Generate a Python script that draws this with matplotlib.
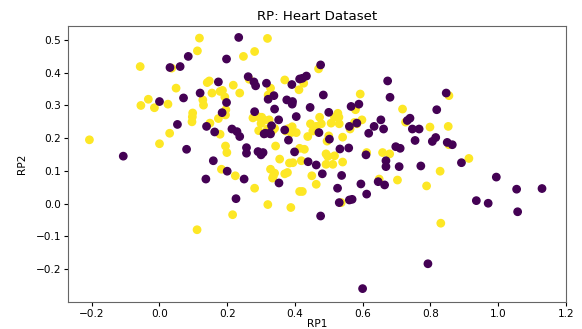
import numpy as np
import matplotlib
matplotlib.use("Agg")
import matplotlib.pyplot as plt

# points, class 1 (yellow) and class 0 (purple)
yes_x = [-0.207, -0.057, -0.055, -0.033, -0.015, 0.025, 0.030, 0.000, 0.049, 0.036,
         0.096, 0.098, 0.097, 0.112, 0.118, 0.128, 0.130, 0.141, 0.147, 0.155,
         0.149, 0.179, 0.174, 0.179, 0.186, 0.193, 0.195, 0.196, 0.218, 0.237,
         0.248, 0.281, 0.319, 0.195, 0.199, 0.265, 0.328, 0.321, 0.370, 0.412,
         0.276, 0.291, 0.302, 0.324, 0.319, 0.335, 0.340, 0.373, 0.380, 0.392,
         0.389, 0.404, 0.414, 0.343, 0.355, 0.384, 0.394, 0.183, 0.224, 0.281,
         0.216, 0.111, 0.320, 0.388, 0.328, 0.340, 0.336, 0.334, 0.370, 0.378,
         0.414, 0.470, 0.426, 0.527, 0.530, 0.517, 0.473, 0.446, 0.478, 0.463,
         0.507, 0.531, 0.453, 0.438, 0.500, 0.495, 0.541, 0.428, 0.492, 0.497,
         0.517, 0.612, 0.659, 0.680, 0.855, 0.914, 0.829, 0.492, 0.512, 0.541,
         0.419, 0.593, 0.579, 0.718, 0.598, 0.576, 0.583, 0.563, 0.727, 0.799,
         0.853, 0.855, 0.450, 0.463, 0.422, 0.537, 0.649, 0.703, 0.789, 0.831,
         0.293, 0.300, 0.310]
yes_y = [0.195, 0.419, 0.300, 0.319, 0.293, 0.304, 0.215, 0.183, 0.353, 0.414,
         0.250, 0.277, 0.265, 0.467, 0.506, 0.317, 0.301, 0.370, 0.375, 0.338,
         0.246, 0.212, 0.260, 0.343, 0.346, 0.326, 0.271, 0.287, 0.362, 0.338,
         0.450, 0.465, 0.505, 0.176, 0.156, 0.380, 0.353, 0.332, 0.378, 0.348,
         0.262, 0.266, 0.264, 0.256, 0.228, 0.225, 0.230, 0.222, 0.229, 0.235,
         0.217, 0.217, 0.169, 0.176, 0.136, 0.124, 0.125, 0.105, 0.085, 0.047,
         -0.034, -0.080, -0.003, -0.012, 0.105, 0.093, 0.083, 0.078, 0.091, 0.095,
         0.037, 0.412, 0.368, 0.276, 0.264, 0.264, 0.264, 0.244, 0.244, 0.236,
         0.246, 0.244, 0.222, 0.205, 0.207, 0.191, 0.203, 0.166, 0.152, 0.144,
         0.146, 0.156, 0.156, 0.152, 0.180, 0.138, 0.099, 0.120, 0.120, 0.127,
         0.131, 0.335, 0.287, 0.289, 0.256, 0.248, 0.244, 0.228, 0.249, 0.234,
         0.236, 0.330, 0.085, 0.059, 0.037, 0.003, 0.075, 0.072, 0.054, -0.060,
         0.223, 0.245, 0.255]

no_x = [-0.107, 0.000, 0.053, 0.031, 0.061, 0.071, 0.085, 0.080, 0.120, 0.174,
        0.139, 0.163, 0.198, 0.185, 0.198, 0.234, 0.159, 0.214, 0.229, 0.237,
        0.262, 0.279, 0.284, 0.316, 0.338, 0.321, 0.391, 0.414, 0.281, 0.340,
        0.376, 0.393, 0.392, 0.404, 0.352, 0.331, 0.313, 0.325, 0.370, 0.381,
        0.399, 0.257, 0.257, 0.291, 0.306, 0.300, 0.137, 0.200, 0.250, 0.226,
        0.353, 0.476, 0.422, 0.434, 0.484, 0.445, 0.500, 0.471, 0.502, 0.533,
        0.559, 0.610, 0.698, 0.711, 0.755, 0.806, 0.816, 0.850, 0.865, 0.892,
        0.669, 0.669, 0.708, 0.772, 0.439, 0.463, 0.674, 0.681, 0.589, 0.566,
        0.654, 0.634, 0.662, 0.618, 0.583, 0.561, 0.740, 0.732, 0.747, 0.767,
        0.819, 0.847, 0.481, 0.538, 0.526, 0.476, 0.531, 0.561, 0.569, 0.595,
        0.612, 0.646, 0.665, 0.995, 0.936, 0.971, 1.055, 1.130, 1.058, 0.793,
        0.600, 0.309, 0.328]
no_y = [0.145, 0.312, 0.242, 0.416, 0.419, 0.323, 0.450, 0.166, 0.338, 0.372,
        0.236, 0.219, 0.309, 0.278, 0.442, 0.508, 0.131, 0.228, 0.220, 0.205,
        0.388, 0.372, 0.360, 0.368, 0.330, 0.319, 0.364, 0.381, 0.281, 0.289,
        0.317, 0.312, 0.304, 0.266, 0.256, 0.238, 0.215, 0.215, 0.225, 0.194,
        0.158, 0.171, 0.154, 0.159, 0.156, 0.149, 0.075, 0.099, 0.075, 0.015,
        0.063, 0.424, 0.383, 0.390, 0.332, 0.294, 0.279, 0.217, 0.197, 0.167,
        0.170, 0.149, 0.174, 0.169, 0.193, 0.190, 0.202, 0.187, 0.180, 0.125,
        0.131, 0.113, 0.113, 0.115, 0.128, 0.118, 0.375, 0.325, 0.304, 0.297,
        0.256, 0.236, 0.228, 0.215, 0.246, 0.236, 0.261, 0.254, 0.228, 0.228,
        0.287, 0.338, 0.091, 0.086, 0.047, -0.038, 0.003, 0.011, 0.013, 0.060,
        0.029, 0.067, 0.057, 0.081, 0.009, 0.001, 0.044, 0.046, -0.025, -0.184,
        -0.260, 0.213, 0.213]

x = np.array(yes_x + no_x)
y = np.array(yes_y + no_y)
target = np.array([1] * len(yes_x) + [0] * len(no_x))

plt.rcParams['font.size'] = 7.6

fig = plt.figure(figsize=(5.82, 3.29), dpi=100)
ax = fig.add_axes([0.117, 0.083, 0.855, 0.838])
ax.scatter(x, y, c=target, cmap='viridis', s=28)
ax.set_xlim(-0.27, 1.2)
ax.set_ylim(-0.30, 0.543)
ax.set_xticks([-0.2, 0.0, 0.2, 0.4, 0.6, 0.8, 1.0, 1.2])
ax.set_yticks([-0.2, -0.1, 0.0, 0.1, 0.2, 0.3, 0.4, 0.5])
ax.tick_params(length=3, pad=2)
ax.set_xlabel('RP1', labelpad=0)
ax.set_ylabel('RP2', labelpad=6)
ax.set_title('RP: Heart Dataset', fontsize=9.6, pad=4)
for sp in ax.spines.values():
    sp.set_color('#666666')

fig.savefig('out.png', dpi=100)
